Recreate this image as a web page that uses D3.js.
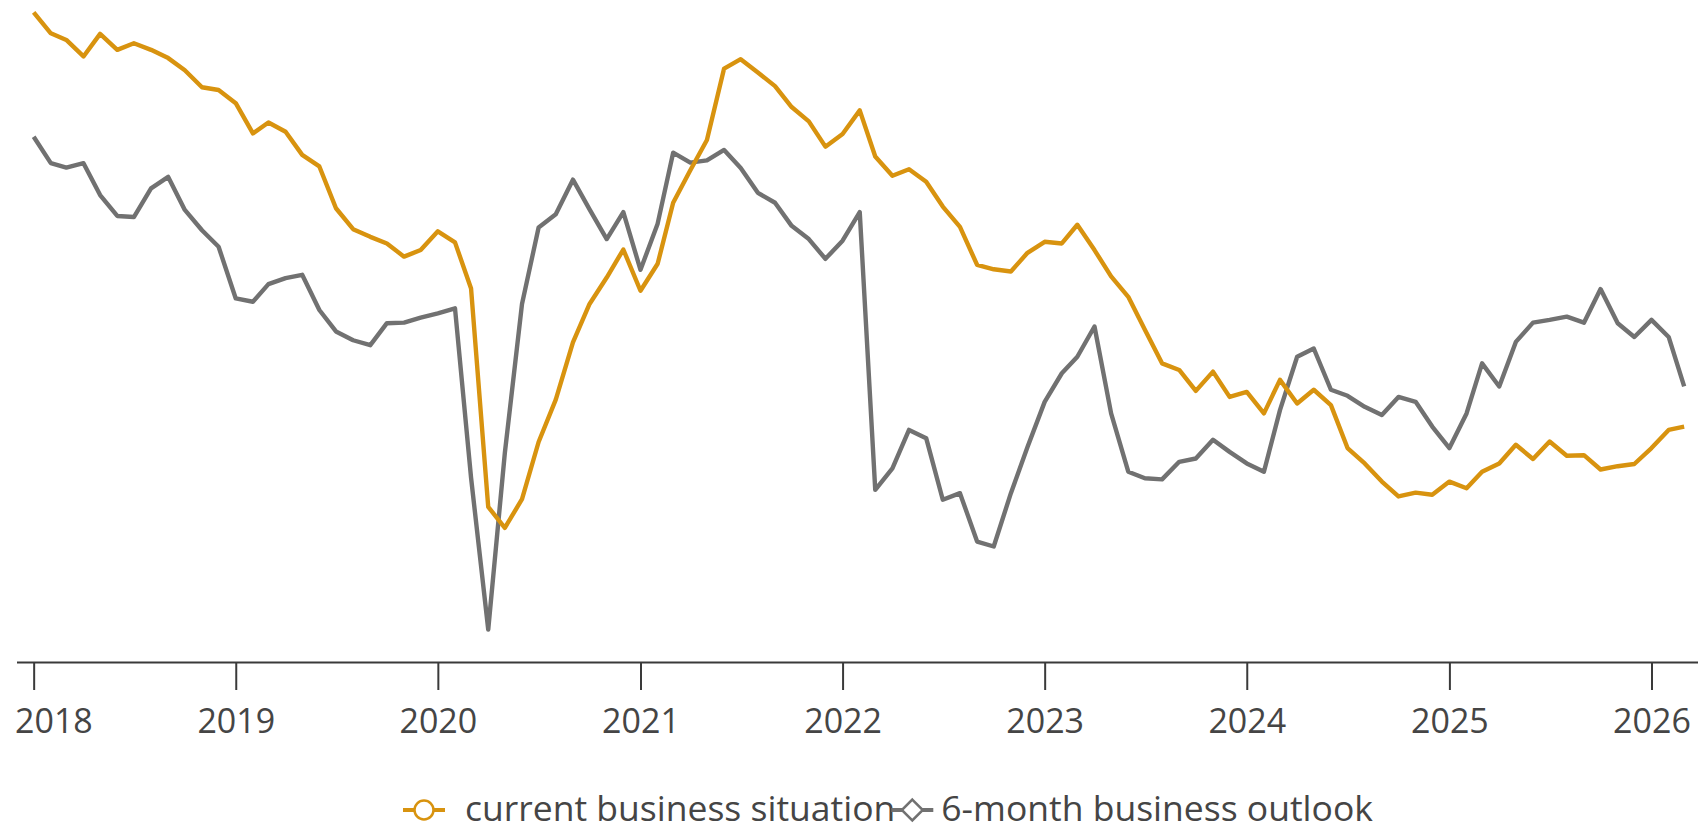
<!DOCTYPE html>
<html>
<head>
<meta charset="utf-8">
<script src="https://cdn.jsdelivr.net/npm/d3@7"></script>
<style>
  html, body { margin: 0; padding: 0; background: #fff; }
  svg { display: block; font-family: "Open Sans", "Noto Sans", sans-serif; }
</style>
</head>
<body>
<svg width="1698" height="832"></svg>
<script>
// monthly readings, Jan 2018 .. Mar 2026
const firstMonth = new Date(2018, 0, 1);

const currentSituation = [
  118.1, 114.3, 113.1, 110.1, 114.2, 111.3, 112.5, 111.3, 109.8, 107.6, 104.5, 104.0,
  101.6, 96.1, 98.1, 96.4, 92.2, 90.1, 82.5, 78.7, 77.3, 76.1, 73.7, 74.9,
  78.3, 76.3, 67.9, 28.2, 24.4, 29.6, 40.0, 47.7, 58.1, 65.1, 69.9, 75.0,
  67.5, 72.4, 83.5, 89.4, 94.9, 107.9, 109.6, 107.2, 104.7, 100.9, 98.3, 93.7,
  96.0, 100.3, 91.9, 88.4, 89.6, 87.3, 82.8, 79.1, 72.2, 71.4, 71.0, 74.4,
  76.4, 76.1, 79.5, 74.9, 70.1, 66.4, 60.4, 54.3, 53.1, 49.3, 52.8, 48.2,
  49.1, 45.2, 51.3, 47.0, 49.5, 46.7, 38.9, 36.1, 32.8, 30.1, 30.8, 30.4,
  32.8, 31.6, 34.6, 36.1, 39.5, 36.9, 40.1, 37.5, 37.6, 35.0, 35.6, 36.0,
  38.9, 42.2, 42.8
];

const outlook = [
  95.5, 90.7, 89.9, 90.7, 84.9, 81.1, 80.9, 86.1, 88.2, 82.2, 78.5, 75.5,
  66.1, 65.5, 68.7, 69.8, 70.4, 64.0, 60.1, 58.5, 57.6, 61.6, 61.7, 62.6,
  63.4, 64.3, 33.5, 5.9, 38.0, 65.1, 79.0, 81.4, 87.7, 82.3, 76.9, 81.8,
  71.3, 79.7, 92.6, 90.8, 91.2, 93.1, 89.8, 85.3, 83.5, 79.3, 76.9, 73.3,
  76.6, 81.8, 31.3, 35.2, 42.2, 40.7, 29.5, 30.7, 21.9, 21.0, 30.7, 39.1,
  47.3, 52.5, 55.5, 61.0, 45.2, 34.6, 33.4, 33.2, 36.4, 37.0, 40.4, 38.2,
  36.1, 34.6, 45.8, 55.5, 57.0, 49.5, 48.4, 46.4, 44.9, 48.2, 47.3, 42.8,
  38.9, 45.2, 54.3, 50.1, 58.2, 61.7, 62.2, 62.8, 61.7, 67.8, 61.6, 59.1,
  62.2, 59.1, 50.1
];

const seriesNames = ["current business situation", "6-month business outlook"];
const seriesColors = ["#d8930f", "#717171"];
const seriesMarkers = ["circle", "diamond"];

const width = 1698;
const height = 832;
const axisY = 662;

const months = currentSituation.map((_, i) => d3.timeMonth.offset(firstMonth, i));

const series = [currentSituation, outlook].map((values, k) => ({
  name: seriesNames[k],
  color: seriesColors[k],
  marker: seriesMarkers[k],
  points: values.map((v, i) => ({ date: months[i], value: v })),
}));

const x = d3
  .scaleTime()
  .domain([new Date(2017, 11, 1), new Date(2026, 2, 26)])
  .range([16.5, width]);

const y = d3.scaleLinear().domain([0, 120]).range([axisY, 2]);

const svg = d3.select("svg");

// x axis
const xAxis = svg
  .append("g")
  .attr("transform", `translate(0,${axisY})`)
  .call(
    d3
      .axisBottom(x)
      .ticks(d3.timeYear.every(1))
      .tickFormat(d3.timeFormat("%Y"))
      .tickSize(28)
      .tickSizeOuter(0)
      .tickPadding(19)
  );

xAxis.select(".domain").attr("stroke", "#3a3a3a").attr("stroke-width", 2.2);
xAxis.selectAll(".tick line").attr("stroke", "#3a3a3a").attr("stroke-width", 2);
xAxis
  .selectAll(".tick text")
  .attr("fill", "#454545")
  .attr("font-size", 34)
  .attr("font-family", "'Open Sans', sans-serif");

// keep the first label inside the chart
xAxis.selectAll(".tick text").each(function () {
  const box = this.getBBox();
  const tx = +this.parentNode.getAttribute("transform").match(/translate\(([-\d.]+)/)[1];
  if (tx + box.x < 15) d3.select(this).attr("x", 15 - tx - box.x);
});

// lines
const line = d3
  .line()
  .x((d) => x(d.date))
  .y((d) => y(d.value));

svg
  .append("g")
  .selectAll("path")
  .data(series.slice().reverse())
  .join("path")
  .attr("fill", "none")
  .attr("stroke", (d) => d.color)
  .attr("stroke-width", 4.4)
  .attr("stroke-linejoin", "round")
  .attr("d", (d) => line(d.points));

// legend
const legendY = 810;
const legend = svg.append("g").attr("font-size", 35.5).attr("fill", "#454545");
let cursor = 403;
series.forEach((s, k) => {
  const textOffset = k === 0 ? 62 : 50;
  const item = legend.append("g").attr("transform", `translate(${cursor},${legendY})`);
  item
    .append("line")
    .attr("x1", 0)
    .attr("x2", 42)
    .attr("stroke", s.color)
    .attr("stroke-width", 4);
  if (s.marker === "circle") {
    item
      .append("circle")
      .attr("cx", 21)
      .attr("r", 9.5)
      .attr("fill", "#fff")
      .attr("stroke", s.color)
      .attr("stroke-width", 2.5);
  } else {
    item
      .append("path")
      .attr("d", d3.symbol(d3.symbolDiamond2, 280)())
      .attr("transform", "translate(21,0)")
      .attr("fill", "#fff")
      .attr("stroke", s.color)
      .attr("stroke-width", 2.5);
  }
  const label = item
    .append("text")
    .attr("x", textOffset)
    .attr("dy", "0.3em")
    .text(s.name);
  cursor += textOffset + label.node().getComputedTextLength() - 4;
});
</script>
</body>
</html>
